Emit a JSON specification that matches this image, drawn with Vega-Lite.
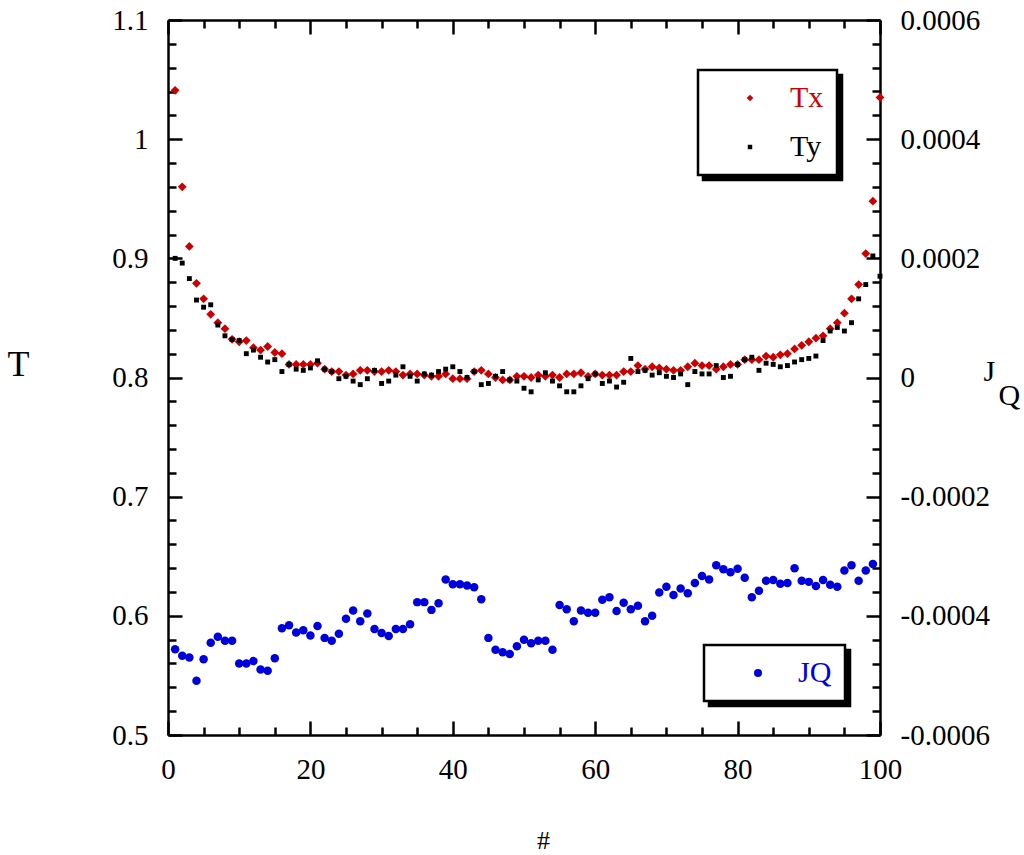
{
  "$schema": "https://vega.github.io/schema/vega-lite/v6.json",
  "description": "Temperature profile Tx, Ty and heat flux JQ along the chain",
  "width": 712,
  "height": 715,
  "autosize": {"type": "none"},
  "padding": {"left": 168, "top": 20, "right": 144, "bottom": 120},
  "background": "white",
  "config": {
    "font": "Liberation Serif",
    "view": {"stroke": null},
    "axis": {
      "grid": false,
      "domainColor": "black",
      "domainWidth": 2.5,
      "tickColor": "black",
      "tickWidth": 2.5,
      "labelFont": "Liberation Serif",
      "labelFontSize": 29,
      "labelColor": "black",
      "labelFlush": false,
      "labelOverlap": false,
      "labelBound": false,
      "labelPadding": 34,
      "titleFont": "Liberation Serif",
      "titleFontWeight": "normal",
      "titleColor": "black"
    },
    "legend": {
      "labelFont": "Liberation Serif",
      "labelFontSize": 30,
      "strokeColor": "black",
      "strokeWidth": 2.5,
      "fillColor": "white",
      "padding": 13,
      "symbolStrokeWidth": 0
    }
  },
  "datasets": {
    "temps": [
      {"i": 1, "series": "Tx", "T": 1.041}, {"i": 2, "series": "Tx", "T": 0.960}, {"i": 3, "series": "Tx", "T": 0.910},
      {"i": 4, "series": "Tx", "T": 0.879}, {"i": 5, "series": "Tx", "T": 0.866}, {"i": 6, "series": "Tx", "T": 0.853},
      {"i": 7, "series": "Tx", "T": 0.846}, {"i": 8, "series": "Tx", "T": 0.841}, {"i": 9, "series": "Tx", "T": 0.832},
      {"i": 10, "series": "Tx", "T": 0.830}, {"i": 11, "series": "Tx", "T": 0.831}, {"i": 12, "series": "Tx", "T": 0.825},
      {"i": 13, "series": "Tx", "T": 0.823}, {"i": 14, "series": "Tx", "T": 0.826}, {"i": 15, "series": "Tx", "T": 0.821},
      {"i": 16, "series": "Tx", "T": 0.820}, {"i": 17, "series": "Tx", "T": 0.811}, {"i": 18, "series": "Tx", "T": 0.811},
      {"i": 19, "series": "Tx", "T": 0.811}, {"i": 20, "series": "Tx", "T": 0.811}, {"i": 21, "series": "Tx", "T": 0.812},
      {"i": 22, "series": "Tx", "T": 0.807}, {"i": 23, "series": "Tx", "T": 0.805}, {"i": 24, "series": "Tx", "T": 0.805},
      {"i": 25, "series": "Tx", "T": 0.802}, {"i": 26, "series": "Tx", "T": 0.803}, {"i": 27, "series": "Tx", "T": 0.806},
      {"i": 28, "series": "Tx", "T": 0.806}, {"i": 29, "series": "Tx", "T": 0.805}, {"i": 30, "series": "Tx", "T": 0.805},
      {"i": 31, "series": "Tx", "T": 0.806}, {"i": 32, "series": "Tx", "T": 0.805}, {"i": 33, "series": "Tx", "T": 0.802},
      {"i": 34, "series": "Tx", "T": 0.803}, {"i": 35, "series": "Tx", "T": 0.803}, {"i": 36, "series": "Tx", "T": 0.802},
      {"i": 37, "series": "Tx", "T": 0.801}, {"i": 38, "series": "Tx", "T": 0.801}, {"i": 39, "series": "Tx", "T": 0.803},
      {"i": 40, "series": "Tx", "T": 0.799}, {"i": 41, "series": "Tx", "T": 0.799}, {"i": 42, "series": "Tx", "T": 0.799},
      {"i": 43, "series": "Tx", "T": 0.805}, {"i": 44, "series": "Tx", "T": 0.806}, {"i": 45, "series": "Tx", "T": 0.803},
      {"i": 46, "series": "Tx", "T": 0.800}, {"i": 47, "series": "Tx", "T": 0.798}, {"i": 48, "series": "Tx", "T": 0.798},
      {"i": 49, "series": "Tx", "T": 0.801}, {"i": 50, "series": "Tx", "T": 0.801}, {"i": 51, "series": "Tx", "T": 0.800},
      {"i": 52, "series": "Tx", "T": 0.802}, {"i": 53, "series": "Tx", "T": 0.801}, {"i": 54, "series": "Tx", "T": 0.802},
      {"i": 55, "series": "Tx", "T": 0.800}, {"i": 56, "series": "Tx", "T": 0.803}, {"i": 57, "series": "Tx", "T": 0.803},
      {"i": 58, "series": "Tx", "T": 0.804}, {"i": 59, "series": "Tx", "T": 0.801}, {"i": 60, "series": "Tx", "T": 0.803},
      {"i": 61, "series": "Tx", "T": 0.802}, {"i": 62, "series": "Tx", "T": 0.802}, {"i": 63, "series": "Tx", "T": 0.802},
      {"i": 64, "series": "Tx", "T": 0.805}, {"i": 65, "series": "Tx", "T": 0.805}, {"i": 66, "series": "Tx", "T": 0.810},
      {"i": 67, "series": "Tx", "T": 0.807}, {"i": 68, "series": "Tx", "T": 0.809}, {"i": 69, "series": "Tx", "T": 0.808},
      {"i": 70, "series": "Tx", "T": 0.807}, {"i": 71, "series": "Tx", "T": 0.806}, {"i": 72, "series": "Tx", "T": 0.806},
      {"i": 73, "series": "Tx", "T": 0.809}, {"i": 74, "series": "Tx", "T": 0.812}, {"i": 75, "series": "Tx", "T": 0.810},
      {"i": 76, "series": "Tx", "T": 0.810}, {"i": 77, "series": "Tx", "T": 0.807}, {"i": 78, "series": "Tx", "T": 0.809},
      {"i": 79, "series": "Tx", "T": 0.811}, {"i": 80, "series": "Tx", "T": 0.811}, {"i": 81, "series": "Tx", "T": 0.815},
      {"i": 82, "series": "Tx", "T": 0.815}, {"i": 83, "series": "Tx", "T": 0.815}, {"i": 84, "series": "Tx", "T": 0.818},
      {"i": 85, "series": "Tx", "T": 0.817}, {"i": 86, "series": "Tx", "T": 0.819}, {"i": 87, "series": "Tx", "T": 0.820},
      {"i": 88, "series": "Tx", "T": 0.824}, {"i": 89, "series": "Tx", "T": 0.827}, {"i": 90, "series": "Tx", "T": 0.830},
      {"i": 91, "series": "Tx", "T": 0.833}, {"i": 92, "series": "Tx", "T": 0.835}, {"i": 93, "series": "Tx", "T": 0.841},
      {"i": 94, "series": "Tx", "T": 0.846}, {"i": 95, "series": "Tx", "T": 0.854}, {"i": 96, "series": "Tx", "T": 0.866},
      {"i": 97, "series": "Tx", "T": 0.878}, {"i": 98, "series": "Tx", "T": 0.904}, {"i": 99, "series": "Tx", "T": 0.948},
      {"i": 100, "series": "Tx", "T": 1.035},
      {"i": 1, "series": "Ty", "T": 0.900}, {"i": 2, "series": "Ty", "T": 0.896}, {"i": 3, "series": "Ty", "T": 0.883},
      {"i": 4, "series": "Ty", "T": 0.865}, {"i": 5, "series": "Ty", "T": 0.859}, {"i": 6, "series": "Ty", "T": 0.861},
      {"i": 7, "series": "Ty", "T": 0.844}, {"i": 8, "series": "Ty", "T": 0.835}, {"i": 9, "series": "Ty", "T": 0.832},
      {"i": 10, "series": "Ty", "T": 0.831}, {"i": 11, "series": "Ty", "T": 0.820}, {"i": 12, "series": "Ty", "T": 0.823},
      {"i": 13, "series": "Ty", "T": 0.817}, {"i": 14, "series": "Ty", "T": 0.813}, {"i": 15, "series": "Ty", "T": 0.815},
      {"i": 16, "series": "Ty", "T": 0.805}, {"i": 17, "series": "Ty", "T": 0.811}, {"i": 18, "series": "Ty", "T": 0.807},
      {"i": 19, "series": "Ty", "T": 0.806}, {"i": 20, "series": "Ty", "T": 0.808}, {"i": 21, "series": "Ty", "T": 0.814},
      {"i": 22, "series": "Ty", "T": 0.807}, {"i": 23, "series": "Ty", "T": 0.805}, {"i": 24, "series": "Ty", "T": 0.799},
      {"i": 25, "series": "Ty", "T": 0.801}, {"i": 26, "series": "Ty", "T": 0.797}, {"i": 27, "series": "Ty", "T": 0.794},
      {"i": 28, "series": "Ty", "T": 0.799}, {"i": 29, "series": "Ty", "T": 0.806}, {"i": 30, "series": "Ty", "T": 0.795},
      {"i": 31, "series": "Ty", "T": 0.797}, {"i": 32, "series": "Ty", "T": 0.802}, {"i": 33, "series": "Ty", "T": 0.809},
      {"i": 34, "series": "Ty", "T": 0.801}, {"i": 35, "series": "Ty", "T": 0.797}, {"i": 36, "series": "Ty", "T": 0.803},
      {"i": 37, "series": "Ty", "T": 0.802}, {"i": 38, "series": "Ty", "T": 0.805}, {"i": 39, "series": "Ty", "T": 0.807},
      {"i": 40, "series": "Ty", "T": 0.809}, {"i": 41, "series": "Ty", "T": 0.805}, {"i": 42, "series": "Ty", "T": 0.800},
      {"i": 43, "series": "Ty", "T": 0.805}, {"i": 44, "series": "Ty", "T": 0.794}, {"i": 45, "series": "Ty", "T": 0.795},
      {"i": 46, "series": "Ty", "T": 0.801}, {"i": 47, "series": "Ty", "T": 0.805}, {"i": 48, "series": "Ty", "T": 0.798},
      {"i": 49, "series": "Ty", "T": 0.797}, {"i": 50, "series": "Ty", "T": 0.791}, {"i": 51, "series": "Ty", "T": 0.788},
      {"i": 52, "series": "Ty", "T": 0.798}, {"i": 53, "series": "Ty", "T": 0.804}, {"i": 54, "series": "Ty", "T": 0.797},
      {"i": 55, "series": "Ty", "T": 0.793}, {"i": 56, "series": "Ty", "T": 0.788}, {"i": 57, "series": "Ty", "T": 0.788},
      {"i": 58, "series": "Ty", "T": 0.793}, {"i": 59, "series": "Ty", "T": 0.799}, {"i": 60, "series": "Ty", "T": 0.803},
      {"i": 61, "series": "Ty", "T": 0.795}, {"i": 62, "series": "Ty", "T": 0.797}, {"i": 63, "series": "Ty", "T": 0.792},
      {"i": 64, "series": "Ty", "T": 0.796}, {"i": 65, "series": "Ty", "T": 0.816}, {"i": 66, "series": "Ty", "T": 0.805},
      {"i": 67, "series": "Ty", "T": 0.806}, {"i": 68, "series": "Ty", "T": 0.802}, {"i": 69, "series": "Ty", "T": 0.804},
      {"i": 70, "series": "Ty", "T": 0.801}, {"i": 71, "series": "Ty", "T": 0.800}, {"i": 72, "series": "Ty", "T": 0.803},
      {"i": 73, "series": "Ty", "T": 0.794}, {"i": 74, "series": "Ty", "T": 0.805}, {"i": 75, "series": "Ty", "T": 0.803},
      {"i": 76, "series": "Ty", "T": 0.803}, {"i": 77, "series": "Ty", "T": 0.810}, {"i": 78, "series": "Ty", "T": 0.800},
      {"i": 79, "series": "Ty", "T": 0.801}, {"i": 80, "series": "Ty", "T": 0.811}, {"i": 81, "series": "Ty", "T": 0.815},
      {"i": 82, "series": "Ty", "T": 0.817}, {"i": 83, "series": "Ty", "T": 0.806}, {"i": 84, "series": "Ty", "T": 0.812},
      {"i": 85, "series": "Ty", "T": 0.811}, {"i": 86, "series": "Ty", "T": 0.809}, {"i": 87, "series": "Ty", "T": 0.810},
      {"i": 88, "series": "Ty", "T": 0.813}, {"i": 89, "series": "Ty", "T": 0.815}, {"i": 90, "series": "Ty", "T": 0.816},
      {"i": 91, "series": "Ty", "T": 0.818}, {"i": 92, "series": "Ty", "T": 0.831}, {"i": 93, "series": "Ty", "T": 0.839},
      {"i": 94, "series": "Ty", "T": 0.842}, {"i": 95, "series": "Ty", "T": 0.839}, {"i": 96, "series": "Ty", "T": 0.846},
      {"i": 97, "series": "Ty", "T": 0.866}, {"i": 98, "series": "Ty", "T": 0.878}, {"i": 99, "series": "Ty", "T": 0.902},
      {"i": 100, "series": "Ty", "T": 0.885}
    ],
    "flux": [
      {"i": 1, "series": "JQ", "JQ": -0.000456}, {"i": 2, "series": "JQ", "JQ": -0.000467}, {"i": 3, "series": "JQ", "JQ": -0.000470},
      {"i": 4, "series": "JQ", "JQ": -0.000509}, {"i": 5, "series": "JQ", "JQ": -0.000473}, {"i": 6, "series": "JQ", "JQ": -0.000445},
      {"i": 7, "series": "JQ", "JQ": -0.000435}, {"i": 8, "series": "JQ", "JQ": -0.000442}, {"i": 9, "series": "JQ", "JQ": -0.000442},
      {"i": 10, "series": "JQ", "JQ": -0.000480}, {"i": 11, "series": "JQ", "JQ": -0.000480}, {"i": 12, "series": "JQ", "JQ": -0.000476},
      {"i": 13, "series": "JQ", "JQ": -0.000490}, {"i": 14, "series": "JQ", "JQ": -0.000492}, {"i": 15, "series": "JQ", "JQ": -0.000471},
      {"i": 16, "series": "JQ", "JQ": -0.000421}, {"i": 17, "series": "JQ", "JQ": -0.000416}, {"i": 18, "series": "JQ", "JQ": -0.000428},
      {"i": 19, "series": "JQ", "JQ": -0.000424}, {"i": 20, "series": "JQ", "JQ": -0.000433}, {"i": 21, "series": "JQ", "JQ": -0.000417},
      {"i": 22, "series": "JQ", "JQ": -0.000437}, {"i": 23, "series": "JQ", "JQ": -0.000442}, {"i": 24, "series": "JQ", "JQ": -0.000430},
      {"i": 25, "series": "JQ", "JQ": -0.000405}, {"i": 26, "series": "JQ", "JQ": -0.000391}, {"i": 27, "series": "JQ", "JQ": -0.000409},
      {"i": 28, "series": "JQ", "JQ": -0.000396}, {"i": 29, "series": "JQ", "JQ": -0.000422}, {"i": 30, "series": "JQ", "JQ": -0.000429},
      {"i": 31, "series": "JQ", "JQ": -0.000434}, {"i": 32, "series": "JQ", "JQ": -0.000422}, {"i": 33, "series": "JQ", "JQ": -0.000422},
      {"i": 34, "series": "JQ", "JQ": -0.000414}, {"i": 35, "series": "JQ", "JQ": -0.000377}, {"i": 36, "series": "JQ", "JQ": -0.000377},
      {"i": 37, "series": "JQ", "JQ": -0.000390}, {"i": 38, "series": "JQ", "JQ": -0.000379}, {"i": 39, "series": "JQ", "JQ": -0.000339},
      {"i": 40, "series": "JQ", "JQ": -0.000347}, {"i": 41, "series": "JQ", "JQ": -0.000347}, {"i": 42, "series": "JQ", "JQ": -0.000349},
      {"i": 43, "series": "JQ", "JQ": -0.000352}, {"i": 44, "series": "JQ", "JQ": -0.000372}, {"i": 45, "series": "JQ", "JQ": -0.000437},
      {"i": 46, "series": "JQ", "JQ": -0.000457}, {"i": 47, "series": "JQ", "JQ": -0.000461}, {"i": 48, "series": "JQ", "JQ": -0.000464},
      {"i": 49, "series": "JQ", "JQ": -0.000451}, {"i": 50, "series": "JQ", "JQ": -0.000440}, {"i": 51, "series": "JQ", "JQ": -0.000446},
      {"i": 52, "series": "JQ", "JQ": -0.000442}, {"i": 53, "series": "JQ", "JQ": -0.000442}, {"i": 54, "series": "JQ", "JQ": -0.000457},
      {"i": 55, "series": "JQ", "JQ": -0.000382}, {"i": 56, "series": "JQ", "JQ": -0.000389}, {"i": 57, "series": "JQ", "JQ": -0.000409},
      {"i": 58, "series": "JQ", "JQ": -0.000391}, {"i": 59, "series": "JQ", "JQ": -0.000395}, {"i": 60, "series": "JQ", "JQ": -0.000395},
      {"i": 61, "series": "JQ", "JQ": -0.000373}, {"i": 62, "series": "JQ", "JQ": -0.000369}, {"i": 63, "series": "JQ", "JQ": -0.000392},
      {"i": 64, "series": "JQ", "JQ": -0.000378}, {"i": 65, "series": "JQ", "JQ": -0.000389}, {"i": 66, "series": "JQ", "JQ": -0.000383},
      {"i": 67, "series": "JQ", "JQ": -0.000409}, {"i": 68, "series": "JQ", "JQ": -0.000400}, {"i": 69, "series": "JQ", "JQ": -0.000361},
      {"i": 70, "series": "JQ", "JQ": -0.000351}, {"i": 71, "series": "JQ", "JQ": -0.000365}, {"i": 72, "series": "JQ", "JQ": -0.000354},
      {"i": 73, "series": "JQ", "JQ": -0.000362}, {"i": 74, "series": "JQ", "JQ": -0.000345}, {"i": 75, "series": "JQ", "JQ": -0.000333},
      {"i": 76, "series": "JQ", "JQ": -0.000339}, {"i": 77, "series": "JQ", "JQ": -0.000315}, {"i": 78, "series": "JQ", "JQ": -0.000322},
      {"i": 79, "series": "JQ", "JQ": -0.000327}, {"i": 80, "series": "JQ", "JQ": -0.000321}, {"i": 81, "series": "JQ", "JQ": -0.000336},
      {"i": 82, "series": "JQ", "JQ": -0.000369}, {"i": 83, "series": "JQ", "JQ": -0.000358}, {"i": 84, "series": "JQ", "JQ": -0.000341},
      {"i": 85, "series": "JQ", "JQ": -0.000340}, {"i": 86, "series": "JQ", "JQ": -0.000346}, {"i": 87, "series": "JQ", "JQ": -0.000345},
      {"i": 88, "series": "JQ", "JQ": -0.000320}, {"i": 89, "series": "JQ", "JQ": -0.000341}, {"i": 90, "series": "JQ", "JQ": -0.000343},
      {"i": 91, "series": "JQ", "JQ": -0.000350}, {"i": 92, "series": "JQ", "JQ": -0.000340}, {"i": 93, "series": "JQ", "JQ": -0.000348},
      {"i": 94, "series": "JQ", "JQ": -0.000351}, {"i": 95, "series": "JQ", "JQ": -0.000324}, {"i": 96, "series": "JQ", "JQ": -0.000315},
      {"i": 97, "series": "JQ", "JQ": -0.000341}, {"i": 98, "series": "JQ", "JQ": -0.000324}, {"i": 99, "series": "JQ", "JQ": -0.000313}
    ]
  },
  "layer": [
    {
      "data": {"name": "temps"},
      "mark": {"type": "point", "filled": true, "opacity": 1, "strokeWidth": 0},
      "encoding": {
        "x": {
          "field": "i",
          "type": "quantitative",
          "scale": {"domain": [0, 100], "nice": false, "zero": false},
          "axis": {
            "orient": "bottom",
            "values": [0, 5, 10, 15, 20, 25, 30, 35, 40, 45, 50, 55, 60, 65, 70, 75, 80, 85, 90, 95, 100],
            "labelExpr": "datum.value % 20 === 0 ? toString(datum.value) : ''",
            "labelFont": "Liberation Serif",
            "tickSize": {"condition": {"test": "datum.value % 20 === 0", "value": -14}, "value": -8},
            "labelPadding": 34,
            "title": "#",
            "titleFontSize": 26,
            "titleX": 375,
            "titleY": 113,
            "titleAlign": "center",
            "titleBaseline": "alphabetic"
          }
        },
        "y": {
          "field": "T",
          "type": "quantitative",
          "scale": {"domain": [0.5, 1.1], "nice": false, "zero": false},
          "axis": {
            "orient": "left",
            "values": [0.5, 0.52, 0.54, 0.56, 0.58, 0.6, 0.62, 0.64, 0.66, 0.68, 0.7, 0.72, 0.74, 0.76, 0.78, 0.8, 0.82, 0.84, 0.86, 0.88, 0.9, 0.92, 0.94, 0.96, 0.98, 1, 1.02, 1.04, 1.06, 1.08, 1.1],
            "labelExpr": "abs(datum.value * 10 - round(datum.value * 10)) < 0.001 ? toString(datum.value) : ''",
            "labelFont": "Liberation Serif",
            "tickSize": {"condition": {"test": "abs(datum.value * 10 - round(datum.value * 10)) < 0.001", "value": -14}, "value": -8},
            "labelPadding": 34,
            "title": "T",
            "titleFontSize": 36,
            "titleAngle": 0,
            "titleX": -150,
            "titleY": 355,
            "titleAlign": "center",
            "titleBaseline": "alphabetic"
          }
        },
        "color": {
          "field": "series",
          "type": "nominal",
          "scale": {"domain": ["Ty", "Tx"], "range": ["#000000", "#cc0000"]},
          "legend": {
            "orient": "none",
            "legendX": 535,
            "legendY": 55,
            "zindex": 1,
            "title": null,
            "rowPadding": 19,
            "symbolOffset": 24,
            "labelOffset": 25,
            "fillColor": "black",
            "symbolOpacity": 0,
            "labelOpacity": 0
          }
        },
        "shape": {
          "field": "series",
          "type": "nominal",
          "scale": {"domain": ["Tx", "Ty"], "range": ["diamond", "square"]},
          "legend": {
            "orient": "none",
            "legendX": 530,
            "legendY": 50,
            "zindex": 2,
            "title": null,
            "rowPadding": 19,
            "symbolOffset": 24,
            "labelOffset": 25,
            "symbolFillColor": {"expr": "datum.value === 'Tx' ? '#cc0000' : '#000000'"},
            "labelColor": {"expr": "datum.value === 'Tx' ? '#cc0000' : '#000000'"},
            "symbolSize": {"expr": "datum.value === 'Tx' ? 45 : 20"}
          }
        },
        "size": {
          "field": "series",
          "type": "nominal",
          "scale": {"range": [78, 24]},
          "legend": null
        }
      }
    },
    {
      "data": {"name": "flux"},
      "mark": {"type": "point", "filled": true, "opacity": 1, "strokeWidth": 0, "size": 72},
      "encoding": {
        "x": {
          "field": "i",
          "type": "quantitative",
          "scale": {"domain": [0, 100], "nice": false, "zero": false},
          "axis": {
            "orient": "top",
            "values": [0, 5, 10, 15, 20, 25, 30, 35, 40, 45, 50, 55, 60, 65, 70, 75, 80, 85, 90, 95, 100],
            "labels": false,
            "tickSize": {"condition": {"test": "datum.value % 20 === 0", "value": -14}, "value": -8},
            "title": null
          }
        },
        "y": {
          "field": "JQ",
          "type": "quantitative",
          "scale": {"domain": [-0.0006, 0.0006], "nice": false, "zero": false},
          "axis": {
            "orient": "right",
            "values": [-0.0006, -0.00056, -0.00052, -0.00048, -0.00044, -0.0004, -0.00036, -0.00032, -0.00028, -0.00024, -0.0002, -0.00016, -0.00012, -0.00008, -0.00004, 0, 0.00004, 0.00008, 0.00012, 0.00016, 0.0002, 0.00024, 0.00028, 0.00032, 0.00036, 0.0004, 0.00044, 0.00048, 0.00052, 0.00056, 0.0006],
            "labelExpr": "abs(datum.value * 5000 - round(datum.value * 5000)) < 0.001 ? toString(datum.value) : ''",
            "labelFont": "Liberation Serif",
            "tickSize": {"condition": {"test": "abs(datum.value * 5000 - round(datum.value * 5000)) < 0.001", "value": -14}, "value": -8},
            "labelPadding": 34,
            "title": ["J", "\u200b\u00a0\u00a0Q"],
            "titleFont": "Liberation Serif",
            "titleFontSize": 30,
            "titleLineHeight": 24,
            "titleAngle": 0,
            "titleX": 103,
            "titleY": 360,
            "titleAlign": "left",
            "titleBaseline": "alphabetic"
          }
        },
        "color": {
          "field": "series",
          "type": "nominal",
          "scale": {"domain": ["JQ"], "range": ["#0000dd"]},
          "legend": {
            "orient": "none",
            "legendX": 541,
            "legendY": 630,
            "zindex": 1,
            "title": null,
            "symbolOffset": 26,
            "labelOffset": 25,
            "fillColor": "black",
            "symbolOpacity": 0,
            "labelOpacity": 0
          }
        },
        "shape": {
          "field": "series",
          "type": "nominal",
          "scale": {"range": ["circle"]},
          "legend": {
            "orient": "none",
            "legendX": 536,
            "legendY": 625,
            "zindex": 2,
            "title": null,
            "symbolOffset": 26,
            "labelOffset": 25,
            "labelColor": "#0000dd",
            "symbolFillColor": "#0000dd",
            "symbolSize": 64
          }
        }
      }
    }
  ],
  "resolve": {
    "scale": {"x": "independent", "y": "independent", "color": "independent", "shape": "independent", "size": "independent"}
  }
}
